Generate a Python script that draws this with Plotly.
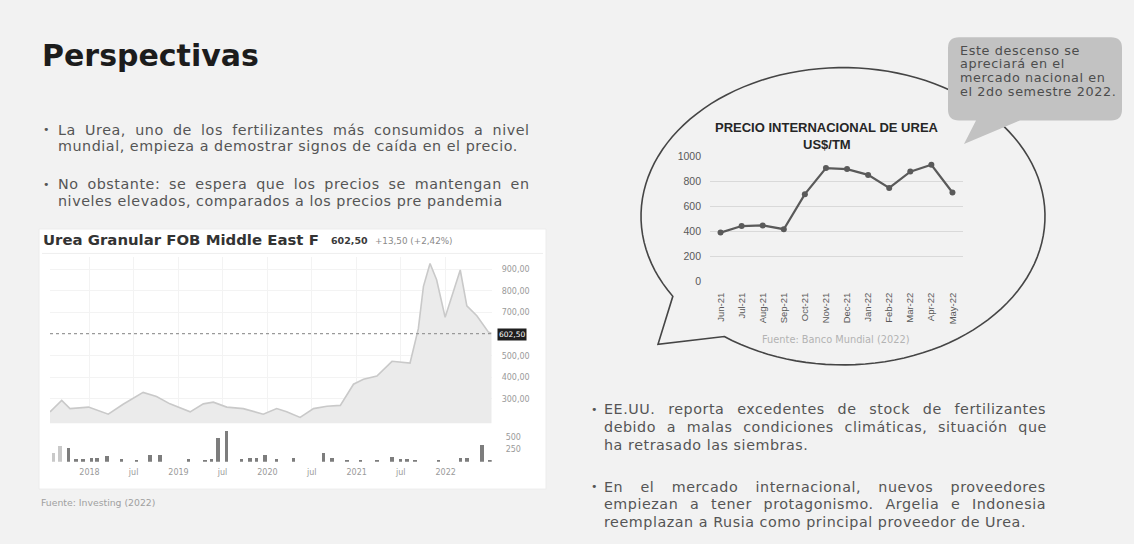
import math
import plotly.graph_objects as go

W, H = 1134, 544


def fx(x):
    return x / W


def fy(y):
    return 1 - y / H


# ---------------- data: right chart (Banco Mundial) ----------------
months = ["Jun-21", "Jul-21", "Aug-21", "Sep-21", "Oct-21", "Nov-21",
          "Dec-21", "Jan-22", "Feb-22", "Mar-22", "Apr-22", "May-22"]
urea_usd_tm = [393, 445, 450, 420, 700, 908, 900, 854, 750, 880, 935, 713]
price_ticks = [0, 200, 400, 600, 800, 1000]

# ---------------- data: left chart (Investing) ----------------
inv_dates = ["2017-07-23", "2017-09-09", "2017-10-13", "2017-12-28", "2018-03-19",
             "2018-05-19", "2018-08-09", "2018-10-03", "2018-11-27", "2019-02-18",
             "2019-04-13", "2019-05-24", "2019-07-18", "2019-09-24", "2019-12-15",
             "2020-02-08", "2020-03-20", "2020-05-14", "2020-07-08", "2020-09-01",
             "2020-10-26", "2020-12-19", "2021-01-29", "2021-03-25", "2021-05-26",
             "2021-08-08", "2021-09-11", "2021-10-02", "2021-10-29", "2021-11-25",
             "2021-12-30", "2022-01-27", "2022-03-02", "2022-03-29", "2022-05-09",
             "2022-06-25", "2022-07-09"]
inv_price = [240, 293, 255, 262, 229,
             275, 330, 311, 277, 240,
             277, 285, 262, 255, 229,
             255, 240, 214, 255, 266,
             270, 368, 391, 406, 474,
             466, 625, 821, 927, 852,
             678, 776, 897, 731, 685,
             610, 602.5]
vol_dates = ["2017-08-06", "2017-09-02", "2017-10-06", "2017-11-06", "2017-12-06",
             "2018-01-10", "2018-01-31", "2018-03-13", "2018-05-13", "2018-07-13",
             "2018-09-06", "2018-10-17", "2019-02-11", "2019-04-20", "2019-05-17",
             "2019-06-13", "2019-07-18", "2019-09-17", "2019-10-22", "2019-11-18",
             "2019-12-22", "2020-02-08", "2020-04-16", "2020-08-18", "2020-09-21",
             "2020-11-22", "2021-01-16", "2021-03-25", "2021-05-26", "2021-06-29",
             "2021-07-26", "2021-08-29", "2021-12-02", "2022-03-02", "2022-03-29",
             "2022-05-30", "2022-07-02"]
vol_values = [189, 325, 290, 55, 55,
              81, 81, 122, 55, 41,
              136, 136, 55, 41, 67,
              493, 629, 55, 75, 87,
              136, 55, 75, 189, 87,
              41, 41, 41, 101, 55,
              55, 41, 41, 75, 87,
              339, 26]
inv_tick_dates = ["2018-01-01", "2018-07-01", "2019-01-01", "2019-07-01", "2020-01-01",
                  "2020-07-01", "2021-01-01", "2021-07-01", "2022-01-01"]
inv_tick_text = ["2018", "jul", "2019", "jul", "2020", "jul", "2021", "jul", "2022"]
inv_price_ticks = [300, 400, 500, 700, 800, 900]
inv_price_tick_text = ["300,00", "400,00", "500,00", "700,00", "800,00", "900,00"]
vol_ticks = [250, 500]
vol_tick_text = ["250", "500"]
last_price = 602.50
inv_x_range = ["2017-07-23", "2022-07-09"]

# ---------------- text ----------------
slide_title = "Perspectivas"
left_bullets = [
    ["La Urea, uno de los fertilizantes más consumidos a nivel",
     "mundial, empieza a demostrar signos de caída en el precio."],
    ["No obstante: se espera que los precios se mantengan en",
     "niveles elevados, comparados a los precios pre pandemia"],
]
right_bullets = [
    ["EE.UU. reporta excedentes de stock de fertilizantes",
     "debido a malas condiciones climáticas, situación que",
     "ha retrasado las siembras."],
    ["En el mercado internacional, nuevos proveedores",
     "empiezan a tener protagonismo. Argelia e Indonesia",
     "reemplazan a Rusia como principal proveedor de Urea."],
]
callout_lines = ["Este descenso se", "apreciará en el",
                 "mercado nacional en", "el 2do semestre 2022."]

BODY_FONT = "DejaVu Sans"
TEXT_GREY = "#555555"

# approximate DejaVu Sans advance widths (em) used to justify text lines
_DJ = {' ': .318, 'a': .613, 'b': .635, 'c': .550, 'd': .635, 'e': .615, 'f': .352,
       'g': .635, 'h': .634, 'i': .278, 'j': .278, 'k': .579, 'l': .278, 'm': .974,
       'n': .634, 'o': .612, 'p': .635, 'q': .635, 'r': .411, 's': .521, 't': .392,
       'u': .634, 'v': .592, 'w': .818, 'x': .592, 'y': .592, 'z': .525, 'á': .613,
       'é': .615, 'í': .278, 'ó': .612, ',': .318, '.': .318, ':': .337, 'A': .684,
       'E': .632, 'U': .732, 'L': .557, 'N': .748, 'R': .695, 'I': .295}


def text_width(s, size, ls):
    return sum(_DJ.get(c, .6) for c in s) * size + len(s) * ls


fig = go.Figure()

# right chart line
fig.add_trace(go.Scatter(
    x=months, y=urea_usd_tm, mode="lines+markers",
    line=dict(color="#5a5a5a", width=2.2),
    marker=dict(size=6, color="#5a5a5a"),
    xaxis="x", yaxis="y", hoverinfo="x+y", showlegend=False))

# left chart area
fig.add_trace(go.Scatter(
    x=inv_dates, y=inv_price, mode="lines", fill="tozeroy",
    line=dict(color="#c9c9c9", width=1.6), fillcolor="#ebebeb",
    xaxis="x2", yaxis="y2", showlegend=False))
fig.add_trace(go.Scatter(
    x=inv_x_range, y=[last_price, last_price], mode="lines",
    line=dict(color="#9a9a9a", width=1.2, dash="dot"),
    xaxis="x2", yaxis="y2", showlegend=False, hoverinfo="skip"))

vol_colors = ["#c9c9c9", "#c9c9c9"] + ["#7d7d7d"] * (len(vol_values) - 2)
fig.add_trace(go.Bar(
    x=vol_dates, y=vol_values, marker=dict(color=vol_colors, line=dict(width=0)),
    width=14 * 86400000, xaxis="x3", yaxis="y3", showlegend=False))

shapes = []
# white box behind investing chart
shapes.append(dict(type="rect", xref="paper", yref="paper",
                   x0=fx(39), x1=fx(546), y0=fy(494), y1=fy(228),
                   fillcolor="white", line=dict(color="#ececec", width=1), layer="below"))
shapes.append(dict(type="line", xref="paper", yref="paper",
                   x0=fx(42), x1=fx(543), y0=fy(253), y1=fy(253),
                   line=dict(color="#eeeeee", width=1), layer="below"))


def P(x, y):
    return f"{fx(x):.5f},{fy(y):.5f}"


# speech bubble outline (ellipse with a tail)
cx, cy, rx, ry = 843, 215, 202, 152
pts = []
n = 120
t0, t1 = -126.0, 212.6
for i in range(n + 1):
    t = math.radians(t0 + (t1 - t0) * i / n)
    pts.append((cx + rx * math.cos(t), cy - ry * math.sin(t)))
path = "M " + P(*pts[0]) + " " + " ".join("L " + P(x, y) for x, y in pts[1:])
path += " L " + P(658, 346) + " Z"
shapes.append(dict(type="path", xref="paper", yref="paper", path=path,
                   line=dict(color="#454545", width=1.6), fillcolor="rgba(0,0,0,0)",
                   layer="above"))

# grey callout box with tail
bx0, by0, bx1, by1, r = 948, 32, 1122, 117, 11
cpath = (f"M {P(bx0 + r, by0)} L {P(bx1 - r, by0)} Q {P(bx1, by0)} {P(bx1, by0 + r)} "
         f"L {P(bx1, by1 - r)} Q {P(bx1, by1)} {P(bx1 - r, by1)} "
         f"L {P(1020, by1)} L {P(964, 141)} L {P(976, by1)} "
         f"L {P(bx0 + r, by1)} Q {P(bx0, by1)} {P(bx0, by1 - r)} "
         f"L {P(bx0, by0 + r)} Q {P(bx0, by0)} {P(bx0 + r, by0)} Z")
shapes.append(dict(type="path", xref="paper", yref="paper", path=cpath,
                   line=dict(width=0), fillcolor="#c2c2c2", layer="above"))

ann = []


def text(x, y, s, size, color=TEXT_GREY, family=BODY_FONT, xanchor="left", **kw):
    ann.append(dict(x=fx(x), y=fy(y), xref="paper", yref="paper", text=s,
                    showarrow=False, xanchor=xanchor, yanchor="middle",
                    font=dict(size=size, color=color, family=family), **kw))


BODY_SIZE, BODY_LS = 14.3, 0.55


def body_line(x, y, s, justify_to=None):
    style = f"letter-spacing:{BODY_LS}px"
    if justify_to is not None and s.count(" "):
        nat = text_width(s, BODY_SIZE, BODY_LS)
        ws = (justify_to - x - nat) / s.count(" ")
        style += f";word-spacing:{ws:.2f}px"
    text(x, y, f'<span style="{style}">{s}</span>', BODY_SIZE)


text(40, 51, "<b>" + slide_title + "</b>", 30, color="#1c1c1c", family="DejaVu Sans")

ly = [[126.5, 143.5], [182.5, 199.5]]
for lines, ys in zip(left_bullets, ly):
    text(41, ys[0], "•", 11)
    for k, (s, y) in enumerate(zip(lines, ys)):
        body_line(56, y, s, 528 if k < len(lines) - 1 else None)

ry_ = [[412.5, 430.5, 448.5], [491.5, 509.5, 527.5]]
for lines, ys in zip(right_bullets, ry_):
    text(589, ys[0], "•", 11)
    for k, (s, y) in enumerate(zip(lines, ys)):
        body_line(602, y, s, 1045 if k < len(lines) - 1 else None)

# investing chart header
text(41, 239, "<b>Urea Granular FOB Middle East F</b>", 14.9, color="#333333",
     family="DejaVu Sans")
text(329, 240, "<b>602,50</b>", 9.5, color="#3a3a3a", family="DejaVu Sans")
text(373, 240, "+13,50 (+2,42%)", 8.8, color="#8a8a8a", family="DejaVu Sans")
ann.append(dict(x=fx(512), y=fy(335.5), xref="paper", yref="paper", text="602,50",
                showarrow=False, xanchor="center", yanchor="middle",
                bgcolor="#1e1e1e", font=dict(size=7.5, color="white", family="DejaVu Sans"),
                borderpad=1))
text(39, 508, "Fuente: Investing (2022)", 9.3, color="#a0a0a0")

# right chart title & source
text(827, 124, "<b>PRECIO INTERNACIONAL DE UREA</b>", 13, color="#262626",
     family="Liberation Sans", xanchor="center")
text(827, 142, "<b>US$/TM</b>", 13, color="#262626", family="Liberation Sans",
     xanchor="center")
text(835, 341, "Fuente: Banco Mundial (2022)", 9.8, color="#b3b3b3", xanchor="center")

for i, s in enumerate(callout_lines):
    text(958, 45 + i * 14, f'<span style="letter-spacing:0.6px">{s}</span>', 12.8,
         color="#4d4d4d")

fig.update_layout(
    width=W, height=H, margin=dict(l=0, r=0, t=0, b=0),
    paper_bgcolor="#f2f2f2", plot_bgcolor="rgba(0,0,0,0)",
    showlegend=False, shapes=shapes, annotations=ann, bargap=0,
    xaxis=dict(domain=[fx(710), fx(963)], range=[-0.5, 11.5], type="category",
               anchor="y", tickangle=-90, showgrid=False, zeroline=False,
               showline=False, ticks="", ticklabelstandoff=8,
               tickfont=dict(size=9.5, color="#595959", family="Liberation Sans")),
    yaxis=dict(domain=[fy(282), fy(154)], range=[0, 1000], tickvals=price_ticks,
               anchor="x", gridcolor="#d9d9d9", gridwidth=1, zeroline=False,
               showline=False, ticks="", ticklabelstandoff=8,
               tickfont=dict(size=10.5, color="#595959", family="Liberation Sans")),
    xaxis2=dict(domain=[fx(50), fx(491.7)], range=inv_x_range, type="date",
                anchor="y2", tickvals=inv_tick_dates, showticklabels=False,
                showgrid=True, gridcolor="#f3f3f3", zeroline=False, showline=False),
    yaxis2=dict(domain=[fy(426.7), fy(256.7)], range=[187, 957], side="right",
                anchor="x2", tickvals=inv_price_ticks, ticktext=inv_price_tick_text,
                showgrid=True, gridcolor="#f3f3f3", zeroline=False, showline=False,
                ticks="", ticklabelstandoff=9,
                tickfont=dict(size=8, color="#9a9a9a", family="DejaVu Sans")),
    xaxis3=dict(domain=[fx(50), fx(491.7)], range=inv_x_range, type="date",
                anchor="y3", tickvals=inv_tick_dates, ticktext=inv_tick_text,
                showgrid=False, zeroline=False, showline=False, ticks="",
                ticklabelstandoff=4,
                tickfont=dict(size=8, color="#9a9a9a", family="DejaVu Sans")),
    yaxis3=dict(domain=[fy(466), fy(431.5)], range=[0, 700], side="right",
                anchor="x3", tickvals=vol_ticks, ticktext=vol_tick_text,
                showgrid=False, zeroline=False, showline=False, ticks="",
                ticklabelstandoff=13,
                tickfont=dict(size=8, color="#9a9a9a", family="DejaVu Sans")),
)

fig.write_html("out.html", config={"displayModeBar": False},
               post_script="document.body.style.margin='0';")
